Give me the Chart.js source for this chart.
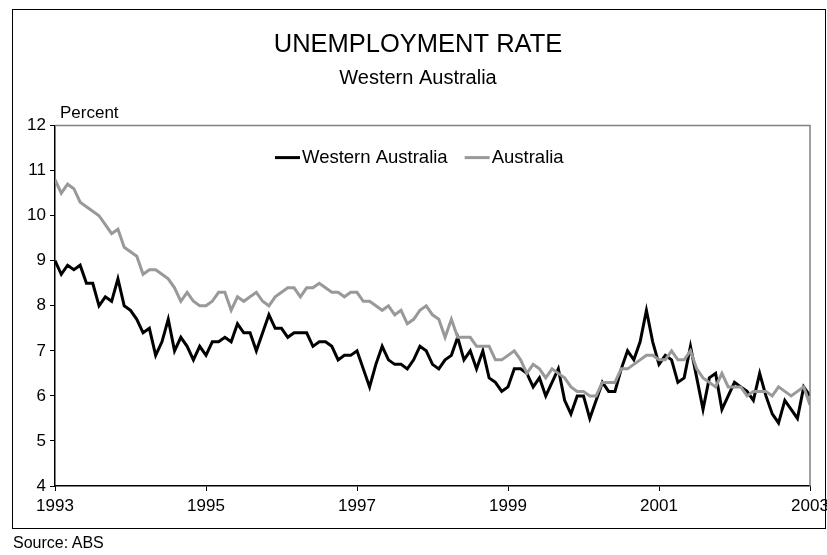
<!DOCTYPE html>
<html>
<head>
<meta charset="utf-8">
<script src="https://cdn.jsdelivr.net/npm/chart.js@4.4.0/dist/chart.umd.min.js"></script>
<style>
  html, body { margin: 0; padding: 0; background: #fff; }
  #wrap { position: relative; width: 827px; height: 555px; overflow: hidden; }
  #frame { position: absolute; left: 12px; top: 9px; width: 812px; height: 518px; border: 1px solid #000; }
  #myChart { position: absolute; left: 0; top: 0; }
  #source { position: absolute; left: 13px; top: 534px; font: 16px "Liberation Sans", Arial, sans-serif; line-height: 18px; color: #000; }
</style>
</head>
<body>
<div id="wrap">
  <div id="frame"></div>
  <canvas id="myChart" width="827" height="555"></canvas>
  <div id="source">Source: ABS</div>
</div>
<script>
// datos mensuales, enero 1993 a enero 2003
var startYear = 1993;
var yearTicks = [1993, 1995, 1997, 1999, 2001, 2003];
var seriesNames = ['Western Australia', 'Australia'];

var waRate = [
  9.0, 8.7, 8.9, 8.8, 8.9, 8.5, 8.5, 8.0, 8.2, 8.1, 8.6, 8.0,
  7.9, 7.7, 7.4, 7.5, 6.9, 7.2, 7.7, 7.0, 7.3, 7.1, 6.8, 7.1,
  6.9, 7.2, 7.2, 7.3, 7.2, 7.6, 7.4, 7.4, 7.0, 7.4, 7.8, 7.5,
  7.5, 7.3, 7.4, 7.4, 7.4, 7.1, 7.2, 7.2, 7.1, 6.8, 6.9, 6.9,
  7.0, 6.6, 6.2, 6.7, 7.1, 6.8, 6.7, 6.7, 6.6, 6.8, 7.1, 7.0,
  6.7, 6.6, 6.8, 6.9, 7.3, 6.8, 7.0, 6.6, 7.0, 6.4, 6.3, 6.1,
  6.2, 6.6, 6.6, 6.5, 6.2, 6.4, 6.0, 6.3, 6.6, 5.9, 5.6, 6.0,
  6.0, 5.5, 5.9, 6.3, 6.1, 6.1, 6.6, 7.0, 6.8, 7.2, 7.9, 7.2,
  6.7, 6.9, 6.8, 6.3, 6.4, 7.1, 6.4, 5.7, 6.4, 6.5, 5.7, 6.0,
  6.3, 6.2, 6.1, 5.9, 6.5, 6.0, 5.6, 5.4, 5.9, 5.7, 5.5, 6.2,
  6.0
];

var ausRate = [
  10.8, 10.5, 10.7, 10.6, 10.3, 10.2, 10.1, 10.0, 9.8, 9.6, 9.7, 9.3,
  9.2, 9.1, 8.7, 8.8, 8.8, 8.7, 8.6, 8.4, 8.1, 8.3, 8.1, 8.0,
  8.0, 8.1, 8.3, 8.3, 7.9, 8.2, 8.1, 8.2, 8.3, 8.1, 8.0, 8.2,
  8.3, 8.4, 8.4, 8.2, 8.4, 8.4, 8.5, 8.4, 8.3, 8.3, 8.2, 8.3,
  8.3, 8.1, 8.1, 8.0, 7.9, 8.0, 7.8, 7.9, 7.6, 7.7, 7.9, 8.0,
  7.8, 7.7, 7.3, 7.7, 7.3, 7.3, 7.3, 7.1, 7.1, 7.1, 6.8, 6.8,
  6.9, 7.0, 6.8, 6.5, 6.7, 6.6, 6.4, 6.6, 6.5, 6.4, 6.2, 6.1,
  6.1, 6.0, 6.0, 6.3, 6.3, 6.3, 6.6, 6.6, 6.7, 6.8, 6.9, 6.9,
  6.8, 6.8, 7.0, 6.8, 6.8, 7.0, 6.6, 6.4, 6.3, 6.2, 6.5, 6.2,
  6.2, 6.2, 6.0, 6.1, 6.1, 6.1, 6.0, 6.2, 6.1, 6.0, 6.1, 6.2,
  5.8
];

function toPoints(values) {
  return values.map(function(v, i) { return { x: startYear + i / 12, y: v }; });
}

Chart.defaults.font.family = '"Liberation Sans", Arial, sans-serif';
Chart.defaults.color = '#000';

// leyenda dentro del area, "Percent" y bordes grises
var extras = {
  id: 'extras',
  afterDraw: function(chart) {
    var ctx = chart.ctx;
    var area = chart.chartArea;
    ctx.save();
    ctx.strokeStyle = '#808080';
    ctx.lineWidth = 1.5;
    ctx.beginPath();
    ctx.moveTo(area.left, area.top);
    ctx.lineTo(area.right, area.top);
    ctx.lineTo(area.right, area.bottom);
    ctx.stroke();

    ctx.font = '17px "Liberation Sans", Arial, sans-serif';
    ctx.fillStyle = '#000';
    ctx.textBaseline = 'middle';
    ctx.textAlign = 'left';
    ctx.fillText('Percent', 60, area.top - 12);

    ctx.font = '18.5px "Liberation Sans", Arial, sans-serif';
    var x = 275, y = area.top + 32;
    chart.data.datasets.forEach(function(ds) {
      ctx.strokeStyle = ds.borderColor;
      ctx.lineWidth = 3;
      ctx.beginPath();
      ctx.moveTo(x, y);
      ctx.lineTo(x + 25, y);
      ctx.stroke();
      ctx.fillStyle = '#000';
      ctx.fillText(ds.label, x + 27, y);
      x += 27 + ctx.measureText(ds.label).width + 17;
    });
    ctx.restore();
  }
};

var ctx = document.getElementById('myChart').getContext('2d');
var myChart = new Chart(ctx, {
  type: 'line',
  data: {
    datasets: [{
      label: seriesNames[0],
      data: toPoints(waRate),
      borderColor: '#000000',
      borderWidth: 3,
      pointRadius: 0,
      order: 1
    }, {
      label: seriesNames[1],
      data: toPoints(ausRate),
      borderColor: '#999999',
      borderWidth: 3,
      pointRadius: 0,
      order: 0
    }]
  },
  options: {
    responsive: false,
    animation: false,
    layout: { padding: { left: 26, right: 17, top: 0, bottom: 27 } },
    scales: {
      x: {
        type: 'linear',
        min: 1993,
        max: 2003,
        afterBuildTicks: function(axis) {
          axis.ticks = yearTicks.map(function(v) { return { value: v }; });
        },
        afterFit: function(scale) {
          scale.height = 42;
          scale.paddingRight = 0;
          scale.paddingLeft = 0;
        },
        ticks: {
          font: { size: 17 },
          padding: 5,
          maxRotation: 0,
          callback: function(value) { return String(value); }
        },
        grid: { drawOnChartArea: false, drawTicks: true, tickLength: 5, color: '#000' },
        border: { color: '#000', width: 1.5 }
      },
      y: {
        min: 4,
        max: 12,
        afterFit: function(scale) { scale.width = 29; },
        ticks: { stepSize: 1, font: { size: 17 }, padding: 4 },
        grid: { drawOnChartArea: false, drawTicks: true, tickLength: 5, color: '#000' },
        border: { color: '#000', width: 1.5 }
      }
    },
    plugins: {
      legend: { display: false },
      tooltip: { enabled: false },
      title: {
        display: true,
        text: 'UNEMPLOYMENT RATE',
        font: { size: 25.5, weight: 'normal' },
        padding: { top: 30, bottom: 2 }
      },
      subtitle: {
        display: true,
        text: 'Western Australia',
        font: { size: 20, weight: 'normal' },
        color: '#000',
        padding: { top: 4, bottom: 35 }
      }
    }
  },
  plugins: [extras]
});
</script>
</body>
</html>
